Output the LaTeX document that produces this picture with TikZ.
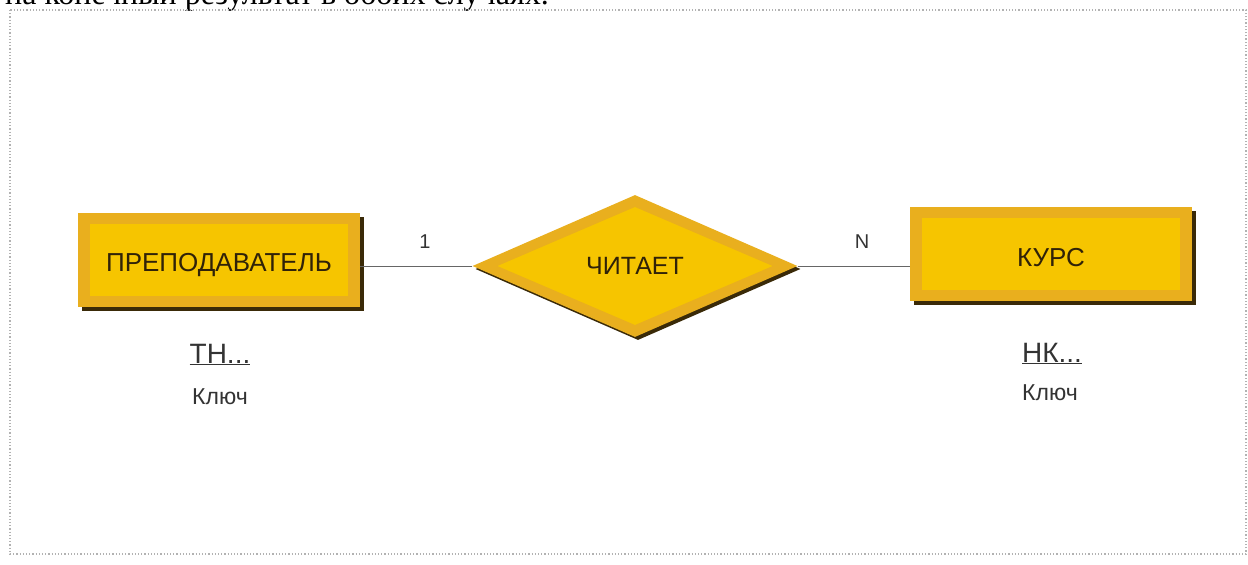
\documentclass[tikz,border=0pt]{standalone}
\usepackage{fontspec}
\setmainfont{Liberation Sans}
\newfontfamily\serifru{Liberation Serif}
\usepackage{xcolor}
\usepackage{tikz}
\usetikzlibrary{calc,shapes.geometric,shadows}

\definecolor{goldout}{HTML}{E9AF1E}
\definecolor{goldin}{HTML}{F6C500}
\definecolor{shade}{HTML}{3A2A08}
\definecolor{ink}{HTML}{302208}

\tikzset{
    entity/.style={rectangle, fill=goldout, inner sep=0pt,
        minimum width=282pt, minimum height=94pt,
        font=\fontsize{26}{30}\selectfont, text=ink,
        text height=24pt, text depth=0pt,
        drop shadow={shadow xshift=4pt, shadow yshift=-4pt, fill=shade, opacity=1},
        path picture={\fill[goldin] ($(path picture bounding box.south west)+(12pt,11pt)$)
            rectangle ($(path picture bounding box.north east)+(-12pt,-11pt)$);}},
    relation/.style={diamond, fill=goldout, inner sep=0pt,
        minimum width=325pt, minimum height=142pt,
        font=\fontsize{25}{30}\selectfont, text=ink,
        drop shadow={shadow xshift=3pt, shadow yshift=-3pt, fill=shade, opacity=1},
        path picture={\fill[goldin] ($(path picture bounding box.west)+(25pt,0)$)
            -- ($(path picture bounding box.north)+(0,-12pt)$)
            -- ($(path picture bounding box.east)+(-25pt,0)$)
            -- ($(path picture bounding box.south)+(0,12pt)$) -- cycle;}},
    card/.style={font=\fontsize{20}{24}\selectfont, text=black!80},
    keyname/.style={font=\fontsize{28}{32}\selectfont, text=black!80, anchor=base},
    keyword/.style={font=\fontsize{23}{26}\selectfont, text=black!80, anchor=base}
}

\begin{document}
\begin{tikzpicture}[x=1pt, y=-1pt]
    \useasboundingbox (0,0) rectangle (1248,565);
    % cut-off line of the text above the figure
    \begin{scope}
        \clip (0,0) rectangle (1248,565);
        \node[anchor=base west, inner sep=0pt, font=\serifru\fontsize{32}{36}\selectfont] (toptext) at (5,4.5)
            {на конечный результат в обоих случаях.};
    \end{scope}
    % dotted frame
    \draw[black!30, dotted, line width=1.2pt] (10,10) rectangle (1246,554);

    \node[entity] (prep) at (219,259.5) {ПРЕПОДАВАТЕЛЬ};
    \node[relation] (reads) at (635,266) {ЧИТАЕТ};
    \node[entity] (kurs) at (1051,254) {КУРС};

    \draw[black!60, line width=0.8pt] (reads.west) -- (reads.west -| prep.east);
    \draw[black!60, line width=0.8pt] (reads.east) -- (reads.east -| kurs.west);

    % cardinalities
    \node[card] (one) at (425,242) {1};
    \node[card] (many) at (862,242) {N};

    % keys under the entities
    \node[keyname] (tn) at (220,363) {\underline{ТН...}};
    \node[keyword] (tnkey) at (220,404) {Ключ};
    \node[keyname] (nk) at (1052,362) {\underline{НК...}};
    \node[keyword] (nkkey) at (1050,400) {Ключ};
\end{tikzpicture}
\end{document}
